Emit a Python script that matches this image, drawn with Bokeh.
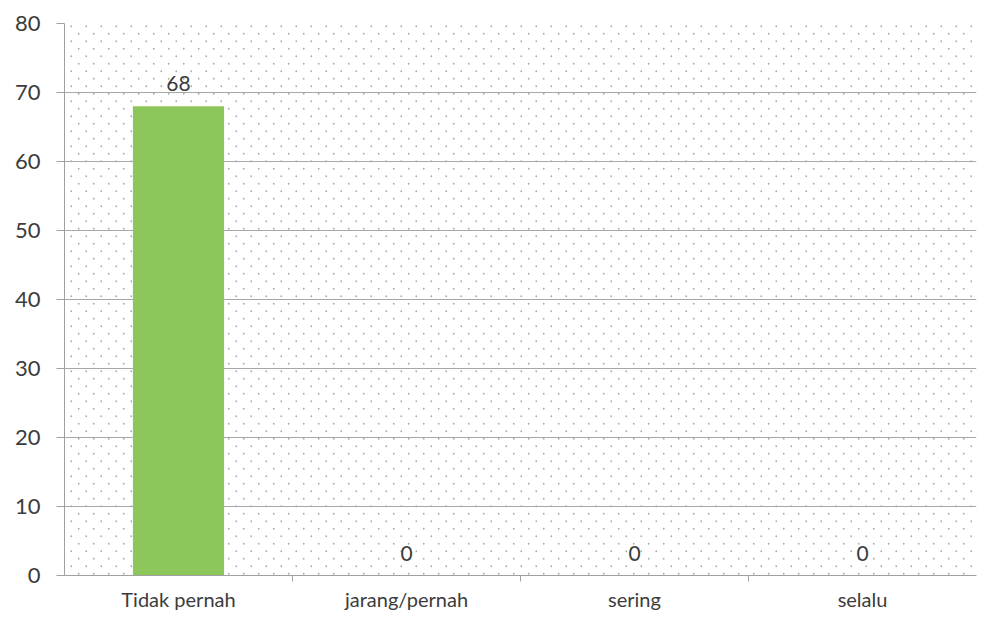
from bokeh.plotting import figure
from bokeh.models import ColumnDataSource, FixedTicker, LabelSet, BoxAnnotation, Range1d, ImageURLTexture
from bokeh.core.properties import value
from bokeh.embed import file_html
from bokeh.resources import INLINE
import base64

categories = ["Tidak pernah", "jarang/pernah", "sering", "selalu"]
values = [68, 0, 0, 0]
y_ticks = [0, 10, 20, 30, 40, 50, 60, 70, 80]

xs = [i + 0.5 for i in range(len(categories))]
source = ColumnDataSource(dict(x=xs, top=values, label=[str(v) for v in values], cat=categories))

FONT = "Lato"
TXT = "#3c3c3c"

# dotted background texture (staggered tiny dots, like the Excel pattern fill)
svg_tile = ('<svg xmlns="http://www.w3.org/2000/svg" width="15" height="15">'
            '<circle cx="3.75" cy="3.75" r="0.9" fill="#9fb0b0"/>'
            '<circle cx="11.25" cy="11.25" r="0.9" fill="#9fb0b0"/></svg>')
tile_url = "data:image/svg+xml;base64," + base64.b64encode(svg_tile.encode()).decode()

p = figure(width=977, height=613, output_backend="svg", toolbar_location=None,
           x_range=Range1d(0, len(categories)), y_range=Range1d(0, 80),
           min_border_left=64, min_border_right=1, min_border_top=23, min_border_bottom=37)
p.outline_line_color = None
p.background_fill_color = "white"
p.border_fill_color = "white"

bg = BoxAnnotation(fill_alpha=0, line_color=None, hatch_pattern="edots",
                   hatch_extra={"edots": ImageURLTexture(url=tile_url)},
                   hatch_alpha=0.9, level="underlay")
p.add_layout(bg)

p.vbar(x="x", top="top", bottom=0, width=0.4, source=source,
       fill_color="#8dc65a", line_color=None)

labels = LabelSet(x="x", y="top", text="label", source=source, text_align="center",
                  text_baseline="bottom", y_offset=15, text_font=value(FONT),
                  text_font_size=value("21px"), text_color=TXT)
p.add_layout(labels)

# y axis
p.yaxis.ticker = FixedTicker(ticks=y_ticks)
p.yaxis.axis_line_color = "#a0a0a0"
p.yaxis.major_tick_line_color = "#a0a0a0"
p.yaxis.major_tick_out = 8
p.yaxis.major_tick_in = 0
p.yaxis.minor_tick_line_color = None
p.yaxis.major_label_standoff = 16
p.yaxis.major_label_text_font = FONT
p.yaxis.major_label_text_font_size = "22px"
p.yaxis.major_label_text_color = TXT

# x axis
p.xaxis.ticker = FixedTicker(ticks=xs, minor_ticks=list(range(1, len(categories))))
p.xaxis.major_label_overrides = {x: c for x, c in zip(xs, categories)}
p.xaxis.axis_line_color = "#a0a0a0"
p.xaxis.major_tick_line_color = None
p.xaxis.minor_tick_line_color = "#a0a0a0"
p.xaxis.minor_tick_out = 6
p.xaxis.minor_tick_in = 0
p.xaxis.major_label_standoff = 5
p.xaxis.major_label_text_font = FONT
p.xaxis.major_label_text_font_size = "20px"
p.xaxis.major_label_text_color = TXT

p.xgrid.grid_line_color = None
p.ygrid.grid_line_color = "#a8a8a8"
p.ygrid.grid_line_width = 1

open("out.html", "w").write(file_html(p, INLINE))
